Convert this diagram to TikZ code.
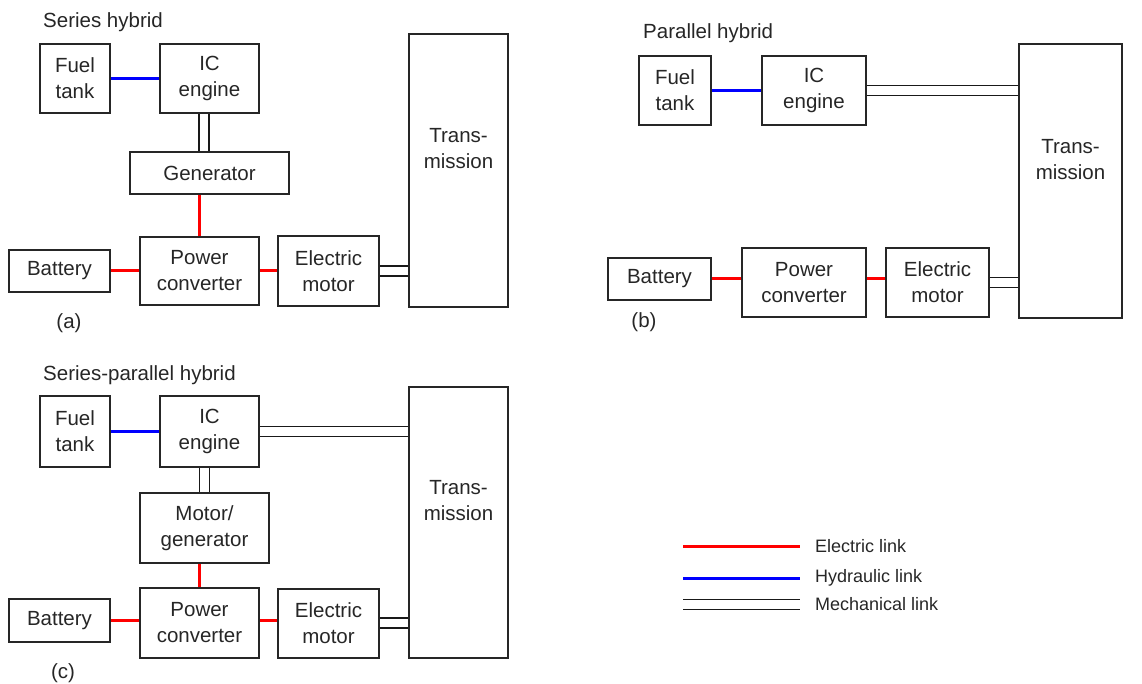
\documentclass[tikz,border=0pt]{standalone}
\usepackage{fontspec}
\setmainfont{Liberation Sans}
\usepackage{xcolor}
\usetikzlibrary{positioning}

\begin{document}
\begin{tikzpicture}[x=1pt, y=-1pt,
  box/.style={rectangle, draw=black!85, line width=2pt, align=center, inner sep=2pt,
              font=\fontsize{20.5}{26}\selectfont, text=black!85},
  boxtext/.style={align=center, inner sep=0pt, font=\fontsize{20.5}{26}\selectfont, text=black!85},
  legtext/.style={anchor=west, inner sep=0pt, font=\fontsize{18}{22}\selectfont, text=black!85},
  elec/.style={draw=red, line width=3pt},
  hydr/.style={draw=blue, line width=3pt},
  mech/.style={draw=black!90, line width=1.8pt, double=white, double distance=8.2pt}
]
\useasboundingbox (0,0) rectangle (1142,684);

% (a) series hybrid
\node[boxtext, anchor=west] (titA) at (43,22) {Series hybrid};
\node[box, minimum width=70pt, minimum height=69pt] (fuelA) at (75,78.5) {Fuel\\tank};
\node[box, minimum width=99pt, minimum height=69pt, right=48pt of fuelA] (iceA) {IC\\engine};
\node[box, minimum width=159pt, minimum height=42pt, below=37pt of iceA] (genA) {Generator};
\node[box, minimum width=119pt, minimum height=68pt] (pcA) at (199.5,271) {Power\\converter};
\node[box, minimum width=101pt, minimum height=42pt, left=28pt of pcA] (batA) {Battery};
\node[box, minimum width=101pt, minimum height=70pt, right=17pt of pcA] (emA) {Electric\\motor};
\node[box, minimum width=99pt, minimum height=273pt] (trA) at (458.5,170.5) {};
\node[boxtext] (trAtxt) at ([yshift=-116pt]trA.north) {Trans-\\mission};
\node[boxtext] (tagA) at (69,323) {(a)};
\draw[hydr] (fuelA) -- (iceA);
\draw[mech] ([xshift=-5.5pt]genA.north) -- ([xshift=-5.5pt]iceA.south);
\draw[elec] (pcA.north) -- (pcA.north |- genA.south);
\draw[elec] (batA) -- (pcA);
\draw[elec] (pcA) -- (emA);
\draw[mech] (emA.east) -- (emA.east -| trA.west);

% (b) parallel hybrid
\node[boxtext, anchor=west] (titB) at (643,33) {Parallel hybrid};
\node[box, minimum width=72pt, minimum height=69pt] (fuelB) at (675,90.5) {Fuel\\tank};
\node[box, minimum width=104pt, minimum height=69pt, right=49pt of fuelB] (iceB) {IC\\engine};
\node[box, minimum width=103pt, minimum height=274pt] (trB) at (1070.5,181) {};
\node[boxtext] (trBtxt) at ([yshift=-117pt]trB.north) {Trans-\\mission};
\node[box, minimum width=124pt, minimum height=69pt] (pcB) at (804,282.5) {Power\\converter};
\node[box, minimum width=103pt, minimum height=42pt] (batB) at (659.5,279) {Battery};
\node[box, minimum width=103pt, minimum height=69pt, right=18pt of pcB] (emB) {Electric\\motor};
\node[boxtext] (tagB) at (644,322) {(b)};
\draw[hydr] (fuelB) -- (iceB);
\draw[mech] (iceB.east) -- (iceB.east -| trB.west);
\draw[elec] (batB.east) -- (batB.east -| pcB.west);
\draw[elec] (pcB.east |- batB.east) -- (emB.west |- batB.east);
\draw[mech] (emB.east) -- (emB.east -| trB.west);

% (c) series-parallel hybrid
\node[boxtext, anchor=west] (titC) at (43,375) {Series-parallel hybrid};
\node[box, minimum width=70pt, minimum height=71pt] (fuelC) at (75,431.5) {Fuel\\tank};
\node[box, minimum width=99pt, minimum height=71pt, right=48pt of fuelC] (iceC) {IC\\engine};
\node[box, minimum width=99pt, minimum height=271pt] (trC) at (458.5,522.5) {};
\node[boxtext] (trCtxt) at ([yshift=-115pt]trC.north) {Trans-\\mission};
\node[box, minimum width=129pt, minimum height=70pt] (mgC) at (204.5,528) {Motor/\\generator};
\node[box, minimum width=119pt, minimum height=70pt] (pcC) at (199.5,623) {Power\\converter};
\node[box, minimum width=101pt, minimum height=43pt] (batC) at (59.5,620.5) {Battery};
\node[box, minimum width=101pt, minimum height=69pt, right=17pt of pcC] (emC) {Electric\\motor};
\node[boxtext] (tagC) at (63,673) {(c)};
\draw[hydr] (fuelC) -- (iceC);
\draw[mech] (iceC.east) -- (iceC.east -| trC.west);
\draw[mech] (mgC.north) -- (mgC.north |- iceC.south);
\draw[elec] (pcC.north) -- (pcC.north |- mgC.south);
\draw[elec] (batC.east) -- (batC.east -| pcC.west);
\draw[elec] (pcC.east |- batC.east) -- (emC.west |- batC.east);
\draw[mech] (emC.east) -- (emC.east -| trC.west);

% legend
\coordinate (legE1) at (683,546);
\coordinate (legE2) at (800,546);
\coordinate (legH1) at (683,578);
\coordinate (legH2) at (800,578);
\coordinate (legM1) at (683,604.5);
\coordinate (legM2) at (800,604.5);
\draw[elec] (legE1) -- (legE2);
\draw[hydr] (legH1) -- (legH2);
\draw[mech] (legM1) -- (legM2);
\node[legtext, right=15pt of legE2] (legEtxt) {Electric link};
\node[legtext, right=15pt of legH2] (legHtxt) {Hydraulic link};
\node[legtext, right=15pt of legM2] (legMtxt) {Mechanical link};
\end{tikzpicture}
\end{document}
